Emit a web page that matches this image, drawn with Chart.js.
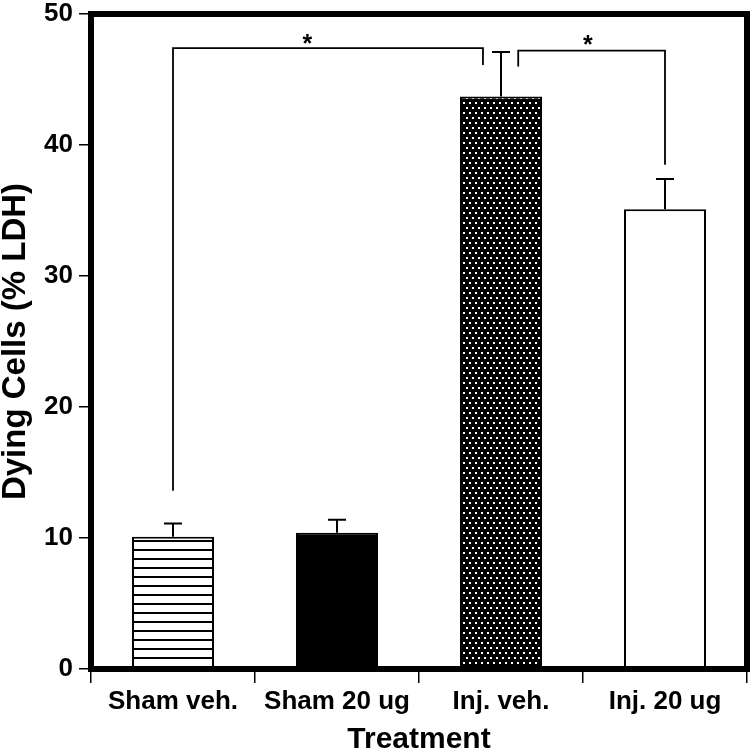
<!DOCTYPE html>
<html>
<head>
<meta charset="utf-8">
<script src="https://cdn.jsdelivr.net/npm/chart.js@4"></script>
<style>
    html, body { margin: 0; padding: 0; background: #fff; }
    #wrap { width: 750px; height: 752px; }
</style>
</head>
<body>
<div id="wrap"><canvas id="chart"></canvas></div>
<script>
const categories = ['Sham veh.', 'Sham 20 ug', 'Inj. veh.', 'Inj. 20 ug'];
const means = [10.1, 10.4, 43.7, 35.1];
const errors = [1.0, 1.0, 3.4, 2.3];
const yTicks = [0, 10, 20, 30, 40, 50];

// significance brackets, x in category index, y in % LDH
const bracketStartX = [0, 2.105];
const bracketEndX = [1.89, 3];
const bracketStartY = [13.6, 46.0];
const bracketTopY = [47.4, 47.2];
const bracketEndY = [46.1, 38.5];
const starX = [0.82, 2.53];
const starY = [47.1, 47.0];

const FONT = "'Liberation Sans', Arial, Helvetica, sans-serif";

function makePattern(kind) {
    const c = document.createElement('canvas');
    const g = c.getContext('2d');
    if (kind === 'stripes') {
        c.width = 4; c.height = 9;
        g.fillStyle = '#fff';
        g.fillRect(0, 0, 4, 9);
        g.fillStyle = '#000';
        g.fillRect(0, 0, 4, 2);
    } else {
        c.width = 6; c.height = 10;
        g.fillStyle = '#000';
        g.fillRect(0, 0, 6, 10);
        g.fillStyle = '#fff';
        g.fillRect(1, 2, 2, 2);
        g.fillRect(4, 7, 2, 2);
    }
    return g.createPattern(c, 'repeat');
}

const barFills = [makePattern('stripes'), '#000', makePattern('dots'), '#fff'];

const overlay = {
    id: 'overlay',
    afterDatasetsDraw(chart) {
        const { ctx, chartArea: a, scales: { x, y } } = chart;
        ctx.save();
        ctx.strokeStyle = '#000';
        ctx.lineCap = 'butt';

        // error bars (upper only)
        ctx.lineWidth = 2;
        means.forEach((m, i) => {
            const px = x.getPixelForValue(i);
            const y0 = y.getPixelForValue(m);
            const y1 = y.getPixelForValue(m + errors[i]);
            ctx.beginPath();
            ctx.moveTo(px, y0);
            ctx.lineTo(px, y1);
            ctx.moveTo(px - 9, y1);
            ctx.lineTo(px + 9, y1);
            ctx.stroke();
        });

        // brackets
        ctx.lineWidth = 1.8;
        bracketStartX.forEach((sx, i) => {
            const x0 = x.getPixelForValue(sx);
            const x1 = x.getPixelForValue(bracketEndX[i]);
            ctx.beginPath();
            ctx.moveTo(x0, y.getPixelForValue(bracketStartY[i]));
            ctx.lineTo(x0, y.getPixelForValue(bracketTopY[i]));
            ctx.lineTo(x1, y.getPixelForValue(bracketTopY[i]));
            ctx.lineTo(x1, y.getPixelForValue(bracketEndY[i]));
            ctx.stroke();
        });

        ctx.fillStyle = '#000';
        ctx.font = 'bold 25px ' + FONT;
        ctx.textAlign = 'center';
        ctx.textBaseline = 'alphabetic';
        starX.forEach((sx, i) => {
            ctx.fillText('*', x.getPixelForValue(sx), y.getPixelForValue(starY[i]));
        });

        // frame
        ctx.lineWidth = 6;
        ctx.strokeRect(a.left, a.top, a.right - a.left, a.bottom - a.top);
        ctx.restore();
    }
};

new Chart(document.getElementById('chart'), {
    type: 'bar',
    data: {
        labels: categories,
        datasets: [{
            data: means,
            backgroundColor: barFills,
            borderColor: '#000',
            borderWidth: 2,
            barPercentage: 1,
            categoryPercentage: 0.5
        }]
    },
    options: {
        responsive: true,
        maintainAspectRatio: false,
        animation: false,
        devicePixelRatio: 1,
        layout: { padding: { top: 14, right: 3, left: 0, bottom: 0 } },
        plugins: {
            legend: { display: false },
            tooltip: { enabled: false }
        },
        scales: {
            x: {
                afterFit: s => { s.height = 83; s.paddingLeft = 0; s.paddingRight = 0; },
                grid: {
                    offset: true,
                    drawOnChartArea: false,
                    tickLength: 14,
                    color: '#000',
                    lineWidth: 1.5
                },
                border: { display: false },
                ticks: {
                    color: '#000',
                    padding: 3,
                    maxRotation: 0,
                    font: { family: FONT, size: 26, weight: 'bold' }
                },
                title: {
                    display: true,
                    text: 'Treatment',
                    color: '#000',
                    padding: { top: 0, bottom: -3 },
                    font: { family: FONT, size: 30, weight: 'bold', lineHeight: 1 }
                }
            },
            y: {
                min: 0,
                max: 50,
                afterFit: s => { s.width = 91; s.paddingTop = 0; s.paddingBottom = 0; },
                afterBuildTicks: s => { s.ticks = yTicks.map(v => ({ value: v })); },
                grid: {
                    drawOnChartArea: false,
                    tickLength: 12,
                    color: '#000',
                    lineWidth: 1.5
                },
                border: { display: false },
                ticks: {
                    color: '#000',
                    padding: 6,
                    font: { family: FONT, size: 26, weight: 'bold' }
                },
                title: {
                    display: true,
                    text: 'Dying Cells (% LDH)',
                    color: '#000',
                    padding: { top: -1, bottom: 0 },
                    font: { family: FONT, size: 33, weight: 'bold', lineHeight: 1 }
                }
            }
        }
    },
    plugins: [overlay]
});
</script>
</body>
</html>
